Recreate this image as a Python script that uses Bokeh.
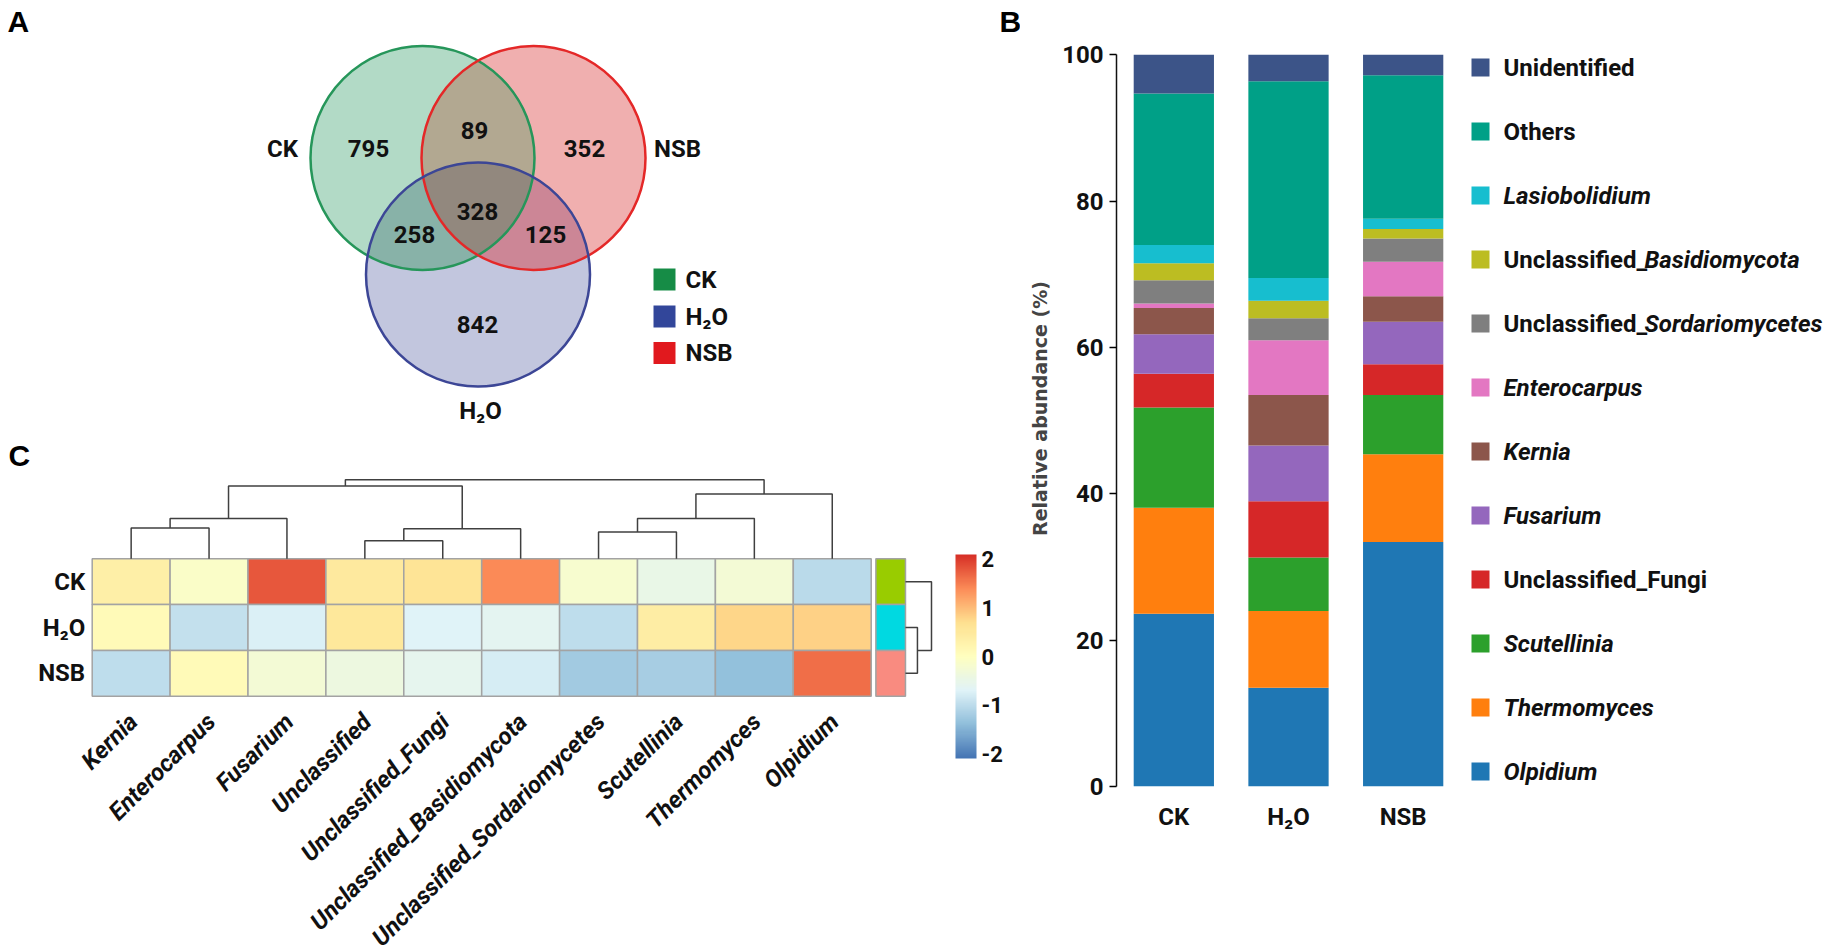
import numpy as np
from bokeh.plotting import figure
from bokeh.layouts import row, column
from bokeh.models import (Range1d, FactorRange, FixedTicker, LinearColorMapper,
                          ColorBar, ColumnDataSource)
from bokeh.transform import transform
from bokeh.core.properties import value
from bokeh.embed import file_html
from bokeh.resources import INLINE

FONT = "Roboto"
PFONT = "Liberation Sans"
FS = 24
TXT = "#111111"

# ---------------- data ----------------
venn_sets = ["CK", "NSB", "H₂O"]
venn_regions = ["CK", "NSB", "H2O", "CK&NSB", "CK&H2O", "NSB&H2O", "CK&NSB&H2O"]
venn_counts = [795, 352, 842, 89, 258, 125, 328]

samples = ["CK", "H₂O", "NSB"]
genera = ["Olpidium", "Thermomyces", "Scutellinia", "Unclassified_Fungi", "Fusarium",
          "Kernia", "Enterocarpus", "Unclassified_Sordariomycetes",
          "Unclassified_Basidiomycota", "Lasiobolidium", "Others", "Unidentified"]
abund_CK = [23.6, 14.5, 13.7, 4.6, 5.4, 3.6, 0.6, 3.2, 2.3, 2.5, 20.7, 5.3]
abund_H2O = [13.5, 10.5, 7.3, 7.7, 7.6, 6.9, 7.5, 3.0, 2.4, 3.1, 26.9, 3.6]
abund_NSB = [33.4, 12.0, 8.1, 4.2, 5.8, 3.5, 4.7, 3.2, 1.3, 1.4, 19.6, 2.8]
genus_colors = ["#1f77b4", "#ff7f0e", "#2ca02c", "#d62728", "#9467bd", "#8c564b",
                "#e377c2", "#7f7f7f", "#bcbd22", "#17becf", "#00a087", "#3c5488"]

hm_taxa = ["Kernia", "Enterocarpus", "Fusarium", "Unclassified", "Unclassified_Fungi",
           "Unclassified_Basidiomycota", "Unclassified_Sordariomycetes", "Scutellinia",
           "Thermomyces", "Olpidium"]
hm_samples = ["CK", "H₂O", "NSB"]
z_CK = [0.34, -0.11, 1.78, 0.47, 0.63, 1.42, -0.20, -0.50, -0.29, -1.05]
z_H2O = [0.09, -0.94, -0.73, 0.54, -0.70, -0.63, -0.98, 0.38, 0.78, 0.83]
z_NSB = [-0.98, 0.11, -0.27, -0.41, -0.57, -0.77, -1.25, -1.20, -1.35, 1.60]
# column dendrogram merges (child a, child b, height); new clusters numbered from 10
col_merges = [(0, 1, 0.39), (10, 2, 0.51), (3, 4, 0.23), (12, 5, 0.38), (11, 13, 0.92),
              (6, 7, 0.34), (15, 8, 0.51), (16, 9, 0.82), (14, 17, 1.00)]
# row dendrogram merges; new clusters numbered from 3
row_merges = [(1, 2, 0.46), (0, 3, 1.00)]
ann_colors = ["#99cc00", "#00d9e1", "#f98b80"]

# ---------------- helpers ----------------
def hex2rgb(h):
    return [int(h[i:i + 2], 16) for i in (1, 3, 5)]

base = ["#4575B4", "#91BFDB", "#E0F3F8", "#FFFFBF", "#FEE090", "#FC8D59", "#D73027"]
arr = np.array([hex2rgb(c) for c in base], float)
palette = []
for tt in np.linspace(0, 6, 100):
    i = min(int(tt), 5)
    f = tt - i
    c = arr[i] * (1 - f) + arr[i + 1] * f
    palette.append("#%02x%02x%02x" % tuple(int(round(v)) for v in c))


def dendro(merges, leaf_pos):
    n = len(leaf_pos)
    pos = {i: (leaf_pos[i], 0.0) for i in range(n)}
    xs, hs = [], []
    for k, (a, b, h) in enumerate(merges):
        xa, ha = pos[a]
        xb, hb = pos[b]
        xs.append([xa, xa, xb, xb])
        hs.append([ha, h, h, hb])
        pos[n + k] = ((xa + xb) / 2, h)
    return xs, hs


def clean(p):
    p.grid.visible = False
    p.outline_line_color = None
    p.background_fill_color = "white"
    p.border_fill_color = "white"


LEFT_W = 1020
PAGE_H = 949

# ---------------- panel A (Venn) ----------------
VH = 477
venn = figure(width=LEFT_W, height=VH, x_range=Range1d(0, LEFT_W),
              y_range=Range1d(PAGE_H - VH, PAGE_H), output_backend="svg",
              toolbar_location=None, x_axis_location=None, y_axis_location=None,
              min_border=0)
clean(venn)

def fy(v):
    return PAGE_H - v

R = 112
cG, cR, cB = (422, 157.5), (533, 157.5), (477.5, 274)
x0, x1, y0, y1 = 300, 660, 35, 395
res = 2
W, Hh = (x1 - x0) * res, (y1 - y0) * res
gx = x0 + (np.arange(W) + 0.5) / res
gy = y1 - (np.arange(Hh) + 0.5) / res
X, Y = np.meshgrid(gx, gy)
inG = (X - cG[0]) ** 2 + (Y - cG[1]) ** 2 <= R ** 2
inR = (X - cR[0]) ** 2 + (Y - cR[1]) ** 2 <= R ** 2
inB = (X - cB[0]) ** 2 + (Y - cB[1]) ** 2 <= R ** 2
code = inG * 1 + inR * 2 + inB * 4
region_rgb = {1: (178, 218, 198), 2: (240, 175, 175), 4: (194, 198, 222),
              3: (178, 168, 145), 5: (136, 178, 168), 6: (204, 134, 150),
              7: (146, 136, 126)}
img = np.zeros((Hh, W), dtype=np.uint32)
view = img.view(dtype=np.uint8).reshape((Hh, W, 4))
for k, (r_, g_, b_) in region_rgb.items():
    m = code == k
    view[m, 0] = r_
    view[m, 1] = g_
    view[m, 2] = b_
    view[m, 3] = 255
venn.image_rgba(image=[img], x=x0, y=fy(y1), dw=x1 - x0, dh=y1 - y0)
venn.ellipse(x=[cG[0], cR[0], cB[0]], y=[fy(cG[1]), fy(cR[1]), fy(cB[1])],
             width=2 * R, height=2 * R, fill_color=None,
             line_color=["#26965a", "#e42828", "#3c4696"], line_width=2.5)

num_pos = [(368, 148), (584, 148), (477, 324), (474, 130), (414, 234), (545, 234), (477, 211)]
venn.text(x=[p[0] for p in num_pos], y=[fy(p[1]) for p in num_pos],
          text=[str(v) for v in venn_counts], text_font=value(FONT),
          text_font_style="bold", text_font_size=f"{FS}px", text_align="center",
          text_baseline="middle", text_color=TXT)
set_pos = [(282, 148), (677, 148), (480, 410)]
venn.text(x=[p[0] for p in set_pos], y=[fy(p[1]) for p in set_pos], text=venn_sets,
          text_font=value(FONT), text_font_style="bold", text_font_size=f"{FS}px",
          text_align="center", text_baseline="middle", text_color=TXT)
leg_names = ["CK", "H₂O", "NSB"]
leg_cols = ["#168c46", "#32469a", "#e1191e"]
leg_y = [279, 316, 352.5]
venn.rect(x=[664] * 3, y=[fy(v) for v in leg_y], width=22, height=22,
          fill_color=leg_cols, line_color=None)
venn.text(x=[685] * 3, y=[fy(v) for v in leg_y], text=leg_names, text_font=value(FONT),
          text_font_style="bold", text_font_size=f"{FS}px", text_align="left",
          text_baseline="middle", text_color=TXT)
venn.text(x=[7, 999, 8], y=[fy(21), fy(21), fy(455)], text=["A", "B", "C"],
          text_font=value(PFONT), text_font_style="bold", text_font_size="30px",
          text_align="left", text_baseline="middle", text_color="black")

# ---------------- panel C (heatmap) ----------------
CELL_W = 77.9
CELL_H = 45.8
HM_LEFT = 91.7          # page x of heatmap left edge
HM_TOP = 558.3          # page y of heatmap top edge
hm_h = PAGE_H - VH
y_top = 3 + (HM_TOP - VH) / CELL_H
y_bot = y_top - hm_h / CELL_H
hm = figure(width=LEFT_W, height=hm_h,
            x_range=Range1d(-HM_LEFT / CELL_W, (LEFT_W - HM_LEFT) / CELL_W),
            y_range=Range1d(y_bot, y_top), output_backend="svg", toolbar_location=None,
            x_axis_location=None, y_axis_location=None, min_border=0)
clean(hm)
mapper = LinearColorMapper(palette=palette, low=-2.1, high=2.1)
cx, cy, cz = [], [], []
for r, zr in enumerate([z_CK, z_H2O, z_NSB]):
    for c, z in enumerate(zr):
        cx.append(c + 0.5)
        cy.append(2.5 - r)
        cz.append(z)
hm.rect(x="x", y="y", width=1, height=1, source=ColumnDataSource(dict(x=cx, y=cy, z=cz)),
        fill_color=transform("z", mapper), line_color="#a3a3a3", line_width=1.5)
# annotation column
ann_x0, ann_w = 10.06, 0.38
hm.rect(x=[ann_x0 + ann_w / 2] * 3, y=[2.5, 1.5, 0.5], width=ann_w, height=1,
        fill_color=ann_colors, line_color="#a3a3a3", line_width=1.5)
# column dendrogram
DH = 1.725
dxs, dhs = dendro(col_merges, [i + 0.5 for i in range(len(hm_taxa))])
hm.multi_line(xs=dxs, ys=[[3 + h * DH for h in hh] for hh in dhs],
              line_color="#404040", line_width=1.5)
# row dendrogram
RW = 0.334
rx0 = ann_x0 + ann_w
rys, rhs = dendro(row_merges, [2.5, 1.5, 0.5])
hm.multi_line(xs=[[rx0 + h * RW for h in hh] for hh in rhs], ys=rys,
              line_color="#404040", line_width=1.5)
# row labels
hm.text(x=[-0.09] * 3, y=[2.5, 1.5, 0.5], text=hm_samples, text_font=value(FONT),
        text_font_style="bold", text_font_size=f"{FS}px", text_align="right",
        text_baseline="middle", text_color=TXT)
# column labels
hm.text(x=[i + 0.53 for i in range(len(hm_taxa))], y=[-0.47] * len(hm_taxa), text=hm_taxa,
        angle=np.pi / 4, text_font=value(FONT), text_font_style="bold italic",
        text_font_size=f"{FS}px", text_align="right", text_baseline="middle",
        text_color=TXT)
cb = ColorBar(color_mapper=mapper, location=(955, PAGE_H - 758), width=21, height=204,
              ticker=FixedTicker(ticks=[-2, -1, 0, 1, 2]), padding=0, label_standoff=5,
              bar_line_color=None, major_tick_line_color=None, minor_tick_line_color=None,
              border_line_color=None, background_fill_color=None,
              major_label_text_font=FONT, major_label_text_font_style="bold",
              major_label_text_font_size="22px", major_label_text_color=TXT,
              major_label_overrides={-2: "-2", -1: "-1", 0: "0", 1: "1", 2: "2"})
hm.add_layout(cb, "center")

# ---------------- panel B (stacked bars) ----------------
AX_X = 1116.5
B_LEFT = AX_X - LEFT_W
FRAME_W = 344
Y0_PX, Y100_PX = 786, 54.3          # page y of 0 % and 100 %
FRAME_TOP = 30
px_per = (Y0_PX - Y100_PX) / 100
y_end = (Y0_PX - FRAME_TOP) / px_per
bars = figure(width=int(round(B_LEFT + FRAME_W)), height=PAGE_H,
              x_range=FactorRange(factors=samples, range_padding=0),
              y_range=Range1d(0, y_end), output_backend="svg", toolbar_location=None,
              min_border_left=int(round(B_LEFT)), min_border_right=0,
              min_border_top=FRAME_TOP, min_border_bottom=PAGE_H - Y0_PX)
clean(bars)
data = dict(sample=samples)
for i, g in enumerate(genera):
    data[g] = [abund_CK[i], abund_H2O[i], abund_NSB[i]]
bars.vbar_stack(genera, x="sample", width=0.7, color=genus_colors,
                source=ColumnDataSource(data), line_color=None)
bars.yaxis.ticker = FixedTicker(ticks=[0, 20, 40, 60, 80, 100])
bars.yaxis.bounds = (0, 100)
bars.yaxis.axis_line_width = 1.5
bars.yaxis.axis_line_color = TXT
bars.yaxis.major_tick_out = 7
bars.yaxis.major_tick_in = 0
bars.yaxis.major_tick_line_width = 1.5
bars.yaxis.minor_tick_line_color = None
bars.yaxis.major_label_standoff = 6
bars.yaxis.axis_label = "Relative abundance (%)"
bars.yaxis.axis_label_text_font = "DejaVu Sans"
bars.yaxis.axis_label_text_font_style = "bold"
bars.yaxis.axis_label_text_font_size = "19px"
bars.yaxis.axis_label_standoff = 8
bars.xaxis.axis_line_color = None
bars.xaxis.major_tick_line_color = None
bars.xaxis.minor_tick_line_color = None
bars.xaxis.major_label_standoff = 10
for ax in (bars.xaxis, bars.yaxis):
    ax.major_label_text_font = FONT
    ax.major_label_text_font_style = "bold"
    ax.major_label_text_font_size = f"{FS}px"
    ax.major_label_text_color = TXT

# ---------------- legend for B ----------------
LEG_X0 = LEFT_W + B_LEFT + FRAME_W
leg_w = 1831 - int(round(LEG_X0))
leg = figure(width=leg_w, height=PAGE_H, x_range=Range1d(1831 - leg_w, 1831),
             y_range=Range1d(Y0_PX, FRAME_TOP), output_backend="svg",
             toolbar_location=None, x_axis_location=None, y_axis_location=None,
             min_border_left=0, min_border_right=0, min_border_top=FRAME_TOP,
             min_border_bottom=PAGE_H - Y0_PX)
clean(leg)
order = list(range(len(genera)))[::-1]
ly = [67 + 64 * k for k in range(len(order))]
leg.rect(x=[1480] * len(order), y=ly, width=18, height=18,
         fill_color=[genus_colors[i] for i in order], line_color=None)
plain_names = {"Others", "Unidentified", "Unclassified_Fungi"}
n_txt, n_y, i_txt, i_x, i_y = [], [], [], [], []
pref = "Unclassified_"
pref_w = 141
for k, i in enumerate(order):
    g = genera[i]
    if g in plain_names:
        n_txt.append(g); n_y.append(ly[k])
    elif g.startswith(pref):
        n_txt.append(pref); n_y.append(ly[k])
        i_txt.append(g[len(pref):]); i_x.append(1503 + pref_w); i_y.append(ly[k])
    else:
        i_txt.append(g); i_x.append(1503); i_y.append(ly[k])
leg.text(x=[1503] * len(n_txt), y=n_y, text=n_txt, text_font=value(FONT),
         text_font_style="bold", text_font_size=f"{FS}px", text_align="left",
         text_baseline="middle", text_color=TXT)
leg.text(x=i_x, y=i_y, text=i_txt, text_font=value(FONT), text_font_style="bold italic",
         text_font_size=f"{FS}px", text_align="left", text_baseline="middle",
         text_color=TXT)

layout = row(column(venn, hm), bars, leg)
open("out.html", "w").write(file_html(layout, INLINE))
